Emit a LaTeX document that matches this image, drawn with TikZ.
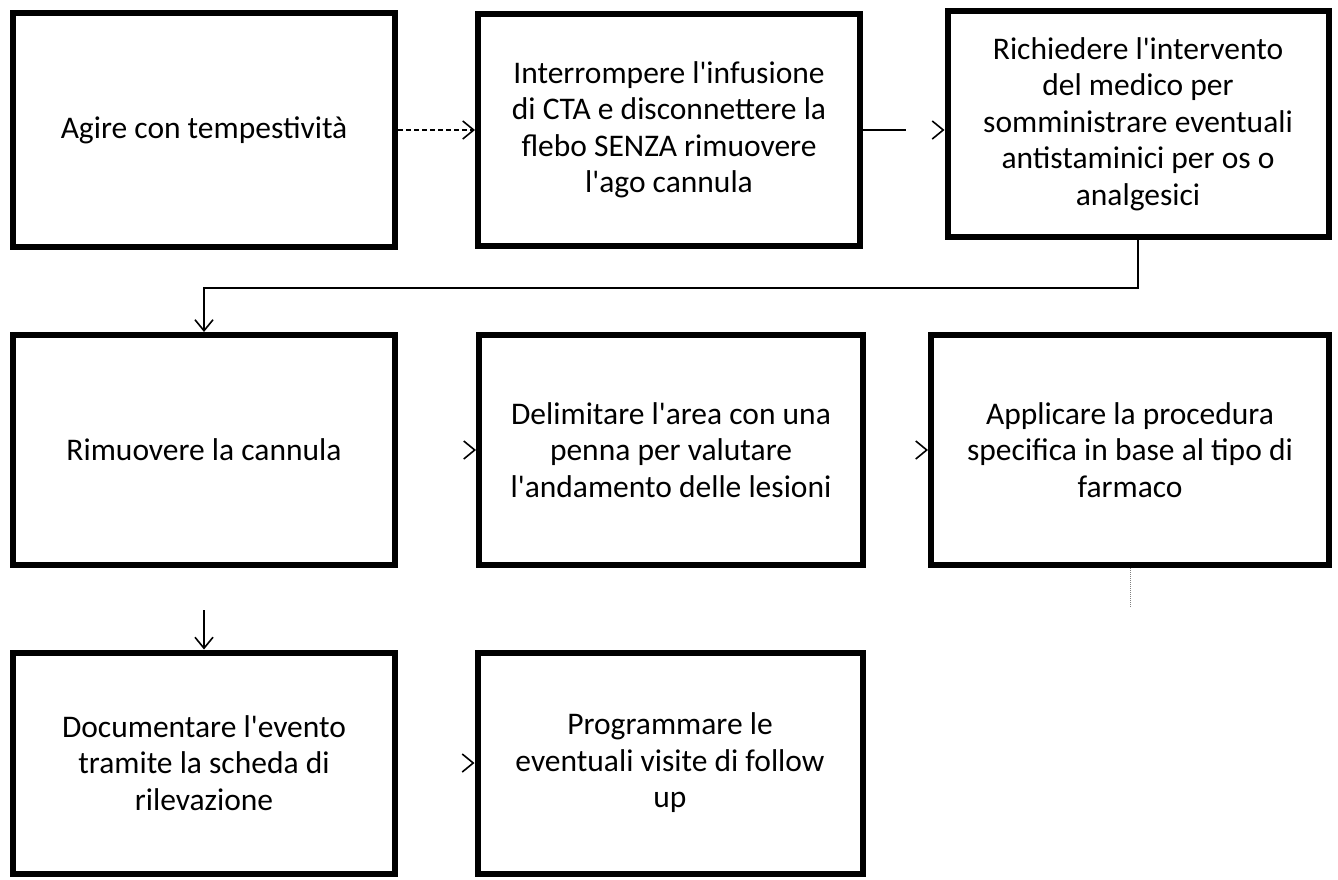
\documentclass[tikz,border=0pt]{standalone}
\usepackage{fontspec}
\setmainfont{Carlito}[Ligatures=TeXOff]
\usetikzlibrary{arrows.meta}
\begin{document}
\begin{tikzpicture}[x=1pt,y=-1pt,
  box/.style={draw=black, line width=6pt, rectangle, align=center, inner sep=0pt,
    font=\fontsize{31.5}{36.5}\selectfont},
  conn/.style={line width=1.3pt, -{Straight Barb[length=11pt,width=18pt,line width=1.6pt]}},
  tail/.style={gray, densely dotted, line width=1pt},
]
\useasboundingbox (0,0) rectangle (1338,879);

\node[box, minimum width=382pt, minimum height=234pt] (b1) at (204,130) {Agire con tempestività};
\node[box, minimum width=382pt, minimum height=232pt] (b2) at (669,130)
  {Interrompere l'infusione\\di CTA e disconnettere la\\flebo SENZA rimuovere\\l'ago cannula};
\node[box, minimum width=381pt, minimum height=226pt] (b3) at (1138,124)
  {Richiedere l'intervento\\del medico per\\somministrare eventuali\\antistaminici per os o\\analgesici};

\node[box, minimum width=382pt, minimum height=230pt] (b4) at (204,450) {Rimuovere la cannula};
\node[box, minimum width=384pt, minimum height=230pt] (b5) at (671,450)
  {Delimitare l'area con una\\penna per valutare\\l'andamento delle lesioni};
\node[box, minimum width=398pt, minimum height=230pt] (b6) at (1130,450)
  {Applicare la procedura\\specifica in base al tipo di\\farmaco};

\node[box, minimum width=382pt, minimum height=221pt] (b7) at (204,763)
  {Documentare l'evento\\tramite la scheda di\\rilevazione};
\node[box, minimum width=385pt, minimum height=221pt] (b8) at (670,763)
  {Programmare le\\eventuali visite di follow\\up};

% connectors
\draw[conn, dash pattern=on 5pt off 3pt] (b1.east) -- (b1.east -| b2.west);
\draw[conn, dash pattern=on 43pt off 200pt] (b2.east) -- (b2.east -| b3.west);
\draw[conn] (b3.south) -- ++(0,48) -| (b4.north);
\draw[conn, dash pattern=on 0pt off 200pt] (b4.east) -- (b5.west);
\draw[conn, dash pattern=on 0pt off 200pt] (b5.east) -- (b6.west);
\draw[conn, dash pattern=on 0pt off 42pt on 100pt] (b4.south) -- (b7.north);
\draw[conn, dash pattern=on 0pt off 200pt] (b7.east) -- (b8.west);
\coordinate (t6) at (1130,608);
\draw[tail] (b6.south) -- (t6);
\end{tikzpicture}
\end{document}
